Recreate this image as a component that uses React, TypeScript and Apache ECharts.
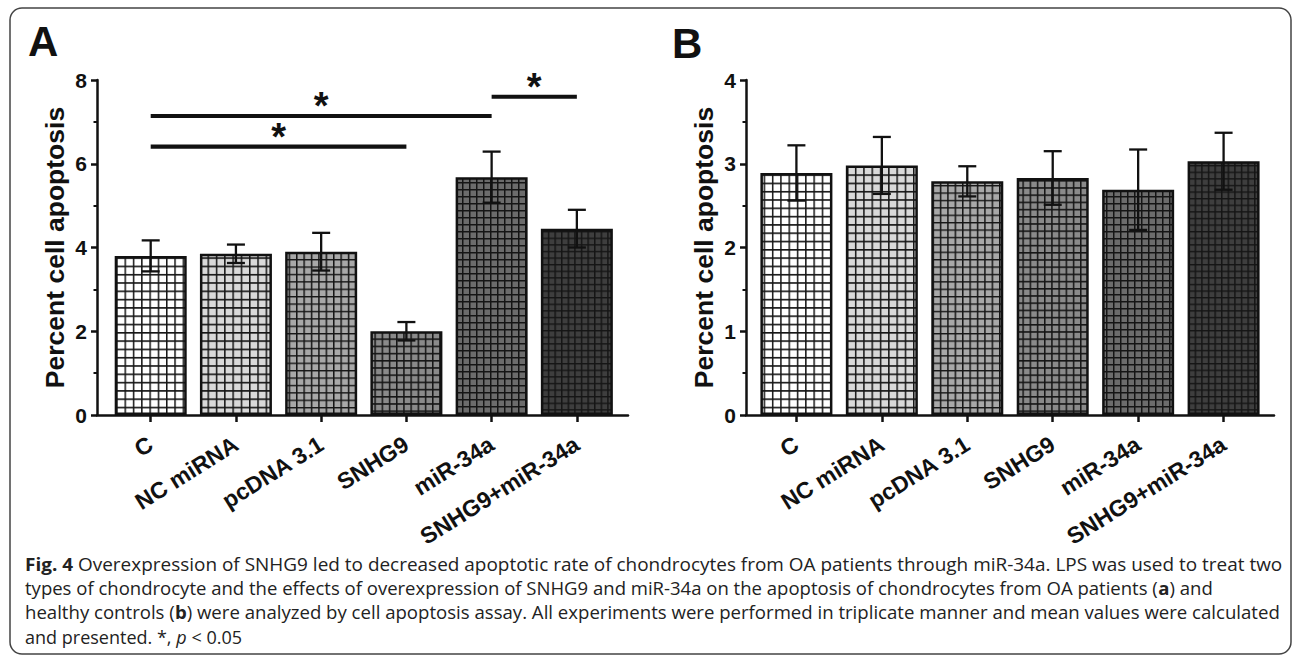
import React, { useEffect, useRef } from "react";
import * as echarts from "echarts";

const categories = ["C", "NC miRNA", "pcDNA 3.1", "SNHG9", "miR-34a", "SNHG9+miR-34a"];
const meanA = [3.8, 3.85, 3.9, 2.0, 5.68, 4.45];
const errA = [0.37, 0.22, 0.45, 0.22, 0.61, 0.45];
const meanB = [2.89, 2.98, 2.79, 2.83, 2.69, 3.03];
const errB = [0.33, 0.34, 0.18, 0.32, 0.48, 0.34];
// significance brackets in panel A: [from category, to category, height]
const sigA = [
  [0, 3, 6.41],
  [0, 4, 7.14],
  [4, 5, 7.6],
];
const yTicksA = { min: 0, max: 8, interval: 2 };
const yTicksB = { min: 0, max: 4, interval: 1 };

const captionLines = [
  "{b|Fig. 4} Overexpression of SNHG9 led to decreased apoptotic rate of chondrocytes from OA patients through miR-34a. LPS was used to treat two",
  "types of chondrocyte and the effects of overexpression of SNHG9 and miR-34a on the apoptosis of chondrocytes from OA patients ({b|a}) and",
  "healthy controls ({b|b}) were analyzed by cell apoptosis assay. All experiments were performed in triplicate manner and mean values were calculated",
  "and presented. *, {i|p} < 0.05",
];
// right end (px) of each caption line in the reference
const captionEnds = [1283, 1213, 1280, 242];

const fills = ["#ffffff", "#d9d9d9", "#a8a8a8", "#8a8a8a", "#6c6c6c", "#3e3e3e"];
const cells = [8.3, 8.3, 7.4, 7.2, 7.0, 6.6];
const INK = "#111";
const FONT = "Liberation Sans, Arial, sans-serif";
const CAP_FONT = "Open Sans, Noto Sans, sans-serif";
const CAP_SIZE = 17.5;
const CAP_X = 25;

function measureRich(line: string): number {
  const c = document.createElement("canvas");
  const ctx = c.getContext("2d");
  if (!ctx) return 1;
  let w = 0;
  const re = /\{(\w)\|([^}]*)\}|([^{]+)/g;
  let m: RegExpExecArray | null;
  while ((m = re.exec(line))) {
    if (m[1]) {
      const style = m[1] === "b" ? "bold " : "italic ";
      ctx.font = `${style}${CAP_SIZE}px ${CAP_FONT}`;
      w += ctx.measureText(m[2]).width;
    } else {
      ctx.font = `${CAP_SIZE}px ${CAP_FONT}`;
      w += ctx.measureText(m[3]).width;
    }
  }
  return w;
}

function makePattern(fill: string, s: number) {
  const svg = `<svg xmlns="http://www.w3.org/2000/svg" width="${s}" height="${s}"><rect width="${s}" height="${s}" fill="${fill}"/><path d="M0 0.75H${s}M0.75 0V${s}" stroke="#151515" stroke-width="1.5"/></svg>`;
  return {
    image: "data:image/svg+xml;charset=utf-8," + encodeURIComponent(svg),
    repeat: "repeat",
    imageWidth: s,
    imageHeight: s,
  };
}

function xAxisCfg(gridIndex: number, min: number, max: number) {
  const idx = categories.map((_, i) => i);
  return {
    type: "value",
    gridIndex,
    min,
    max,
    splitLine: { show: false },
    axisLine: { show: true, onZero: false, lineStyle: { color: INK, width: 2.5 } },
    axisTick: { show: true, customValues: idx, length: 7, lineStyle: { color: INK, width: 2.5 } },
    axisLabel: {
      customValues: idx,
      formatter: (v: number) => categories[Math.round(v)] ?? "",
      rotate: 32,
      margin: 27,
      fontSize: 23,
      fontWeight: "bold",
      fontFamily: FONT,
      color: INK,
    },
  };
}

function yAxisCfg(gridIndex: number, t: { min: number; max: number; interval: number }) {
  return {
    type: "value",
    gridIndex,
    min: t.min,
    max: t.max,
    interval: t.interval,
    name: "Percent cell apoptosis",
    nameLocation: "middle",
    nameGap: 29,
    nameTextStyle: { fontSize: 26.5, fontWeight: "bold", fontFamily: FONT, color: INK },
    splitLine: { show: false },
    axisLine: { show: true, onZero: false, lineStyle: { color: INK, width: 2.5 } },
    axisTick: { show: true, length: 6, lineStyle: { color: INK, width: 2.5 } },
    minorTick: { show: true, splitNumber: 2, length: 3.5, lineStyle: { color: INK, width: 2 } },
    axisLabel: { margin: 10, fontSize: 21, fontWeight: "bold", fontFamily: FONT, color: INK },
  };
}

function barSeries(axisIndex: number, means: number[]) {
  return {
    type: "bar",
    xAxisIndex: axisIndex,
    yAxisIndex: axisIndex,
    barWidth: 72,
    data: means.map((m, i) => ({
      value: [i, m],
      itemStyle: { color: makePattern(fills[i], cells[i]), borderColor: INK, borderWidth: 2.5 },
    })),
    z: 2,
  };
}

function errSeries(axisIndex: number, means: number[], errs: number[]) {
  return {
    type: "custom",
    xAxisIndex: axisIndex,
    yAxisIndex: axisIndex,
    z: 5,
    encode: { x: 0, y: 1 },
    data: means.map((m, i) => [i, m, errs[i]]),
    renderItem: (_p: any, api: any) => {
      const x = api.value(0);
      const m = api.value(1);
      const e = api.value(2);
      const t = api.coord([x, m + e]);
      const b = api.coord([x, m - e]);
      const hw = 9;
      const st = { stroke: INK, lineWidth: 2.3 };
      return {
        type: "group",
        children: [
          { type: "line", shape: { x1: t[0], y1: t[1], x2: b[0], y2: b[1] }, style: st },
          { type: "line", shape: { x1: t[0] - hw, y1: t[1], x2: t[0] + hw, y2: t[1] }, style: st },
          { type: "line", shape: { x1: b[0] - hw, y1: b[1], x2: b[0] + hw, y2: b[1] }, style: st },
        ],
      };
    },
  };
}

function sigSeries(axisIndex: number, sig: number[][]) {
  return {
    type: "custom",
    xAxisIndex: axisIndex,
    yAxisIndex: axisIndex,
    z: 6,
    encode: { x: [0, 1], y: 2 },
    data: sig,
    renderItem: (_p: any, api: any) => {
      const y = api.value(2);
      const p1 = api.coord([api.value(0), y]);
      const p2 = api.coord([api.value(1), y]);
      return {
        type: "group",
        children: [
          { type: "line", shape: { x1: p1[0], y1: p1[1], x2: p2[0], y2: p2[1] }, style: { stroke: INK, lineWidth: 4.2 } },
          {
            type: "text",
            x: (p1[0] + p2[0]) / 2,
            y: p1[1] - 10,
            style: {
              text: "*",
              fontSize: 38,
              fontWeight: "bold",
              fontFamily: FONT,
              fill: INK,
              align: "center",
              verticalAlign: "middle",
            },
          },
        ],
      };
    },
  };
}

export default function App() {
  const ref = useRef<HTMLDivElement>(null);
  useEffect(() => {
    if (!ref.current) return;
    const chart = echarts.init(ref.current, null, { renderer: "svg" });
    const captionGraphics = captionLines.map((t, i) => {
      const w = measureRich(t);
      const sx = w > 0 ? (captionEnds[i] - CAP_X) / w : 1;
      return {
        type: "text",
        x: CAP_X,
        y: 564 + i * 24.3,
        scaleX: sx,
        style: {
          text: t,
          fontSize: CAP_SIZE,
          fontFamily: CAP_FONT,
          fill: "#222",
          verticalAlign: "middle",
          rich: {
            b: { fontSize: CAP_SIZE, fontWeight: "bold", fontFamily: CAP_FONT, fill: "#222" },
            i: { fontSize: CAP_SIZE, fontStyle: "italic", fontFamily: CAP_FONT, fill: "#222" },
          },
        },
      };
    });
    const option: any = {
      animation: false,
      backgroundColor: "#ffffff",
      grid: [
        { left: 97, top: 80, width: 531, height: 335 },
        { left: 746, top: 80, width: 528, height: 335 },
      ],
      xAxis: [xAxisCfg(0, -0.63, 5.6), xAxisCfg(1, -0.59, 5.59)],
      yAxis: [yAxisCfg(0, yTicksA), yAxisCfg(1, yTicksB)],
      series: [
        barSeries(0, meanA),
        errSeries(0, meanA, errA),
        sigSeries(0, sigA),
        barSeries(1, meanB),
        errSeries(1, meanB, errB),
      ],
      graphic: [
        {
          type: "rect",
          shape: { x: 10, y: 8, width: 1281, height: 646, r: 12 },
          style: { fill: "none", stroke: "#444", lineWidth: 1.5 },
          silent: true,
        },
        {
          type: "text",
          x: 28,
          y: 20,
          style: { text: "A", fontSize: 42, fontWeight: "bold", fontFamily: FONT, fill: INK },
        },
        {
          type: "text",
          x: 672,
          y: 22,
          style: { text: "B", fontSize: 42, fontWeight: "bold", fontFamily: FONT, fill: INK },
        },
        ...captionGraphics,
      ],
    };
    chart.setOption(option);
    return () => chart.dispose();
  }, []);
  return (
    <div
      ref={ref}
      style={{ position: "absolute", left: 0, top: 0, width: 1292, height: 660, background: "#fff" }}
    />
  );
}
